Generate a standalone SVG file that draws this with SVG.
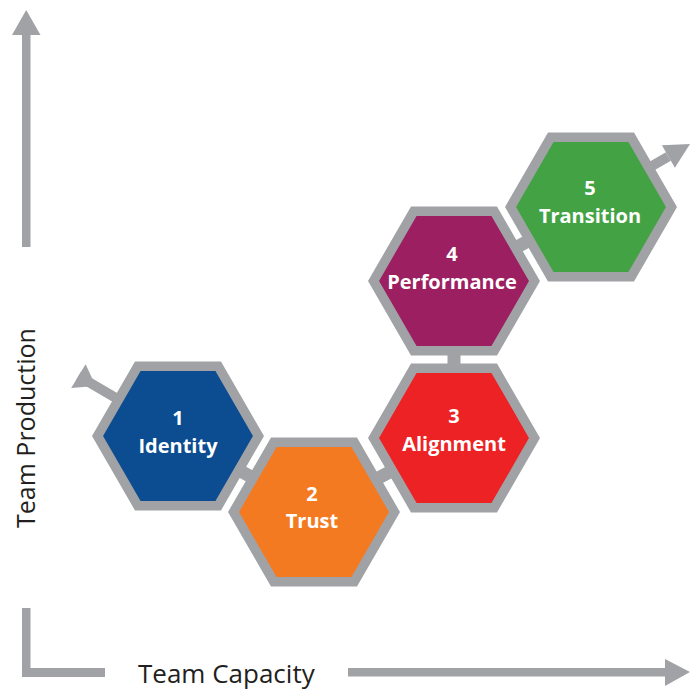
<svg xmlns="http://www.w3.org/2000/svg" xmlns:xlink="http://www.w3.org/1999/xlink" width="690" height="690" viewBox="0 0 690 690">
  <style>
    .ax { fill: #A1A2A5; }
    .axl { font-family: "Open Sans", "Liberation Sans", sans-serif; font-size: 25px; fill: #231F20; }
    .axb { font-size: 26px; }
    .hex { stroke: #A1A2A5; stroke-width: 9.5; stroke-linejoin: miter; }
    .lbl { font-family: "Open Sans", "Liberation Sans", sans-serif; font-weight: bold; font-size: 20px; fill: #FFFFFF; text-anchor: middle; }
    .bar { stroke: #A1A2A5; stroke-width: 13; fill: none; }
    .shaft { stroke: #A1A2A5; stroke-width: 10; fill: none; }
  </style>
  <defs>
    <polygon id="hx" points="80.5,0 40.25,69.71 -40.25,69.71 -80.5,0 -40.25,-69.71 40.25,-69.71"/>
  </defs>
  <rect width="690" height="690" fill="#FFFFFF"/>

  <g id="axes">
    <rect class="ax" x="22" y="34" width="8.5" height="213"/>
    <polygon class="ax" points="26.2,10 40.5,35 12,35"/>
    <path class="ax" d="M22,608 H30.5 V668 H105 V677 H22 Z"/>
    <rect class="ax" x="348" y="668" width="318" height="8.5"/>
    <polygon class="ax" points="665,659 690,672 665,686"/>
    <text class="axl" transform="translate(35,528) rotate(-90)">Team Production</text>
    <text class="axl axb" x="138" y="683">Team Capacity</text>
  </g>

  <g id="connectors">
    <line class="bar" x1="178" y1="436" x2="314" y2="512"/>
    <line class="bar" x1="314" y1="512" x2="454" y2="438"/>
    <line class="bar" x1="454" y1="438" x2="454" y2="281"/>
    <line class="bar" x1="454" y1="281" x2="591" y2="207"/>
    <line class="shaft" x1="78.4" y1="376" x2="150" y2="418"/>
    <polygon class="ax" points="85.6,364.2 71.2,388 95.7,386"/>
    <line class="shaft" x1="668.4" y1="156.5" x2="599" y2="196.5"/>
    <polygon class="ax" points="661.9,145.2 674.9,167.8 690,144"/>
  </g>

  <g id="node1">
    <use xlink:href="#hx" class="hex" fill="#0C4D91" transform="translate(178,436)"/>
    <text class="lbl" x="178" y="425">1</text>
    <text class="lbl" x="178" y="453">Identity</text>
  </g>
  <g id="node2">
    <use xlink:href="#hx" class="hex" fill="#F47A22" transform="translate(314,512)"/>
    <text class="lbl" x="312" y="501">2</text>
    <text class="lbl" x="312" y="528">Trust</text>
  </g>
  <g id="node3">
    <use xlink:href="#hx" class="hex" fill="#ED2224" transform="translate(454,438)"/>
    <text class="lbl" x="454" y="423">3</text>
    <text class="lbl" x="454" y="451">Alignment</text>
  </g>
  <g id="node4">
    <use xlink:href="#hx" class="hex" fill="#9C1F61" transform="translate(454,281)"/>
    <text class="lbl" x="452" y="261">4</text>
    <text class="lbl" x="452" y="289">Performance</text>
  </g>
  <g id="node5">
    <use xlink:href="#hx" class="hex" fill="#43A344" transform="translate(591,207)"/>
    <text class="lbl" x="590" y="195">5</text>
    <text class="lbl" x="590" y="223">Transition</text>
  </g>
</svg>
